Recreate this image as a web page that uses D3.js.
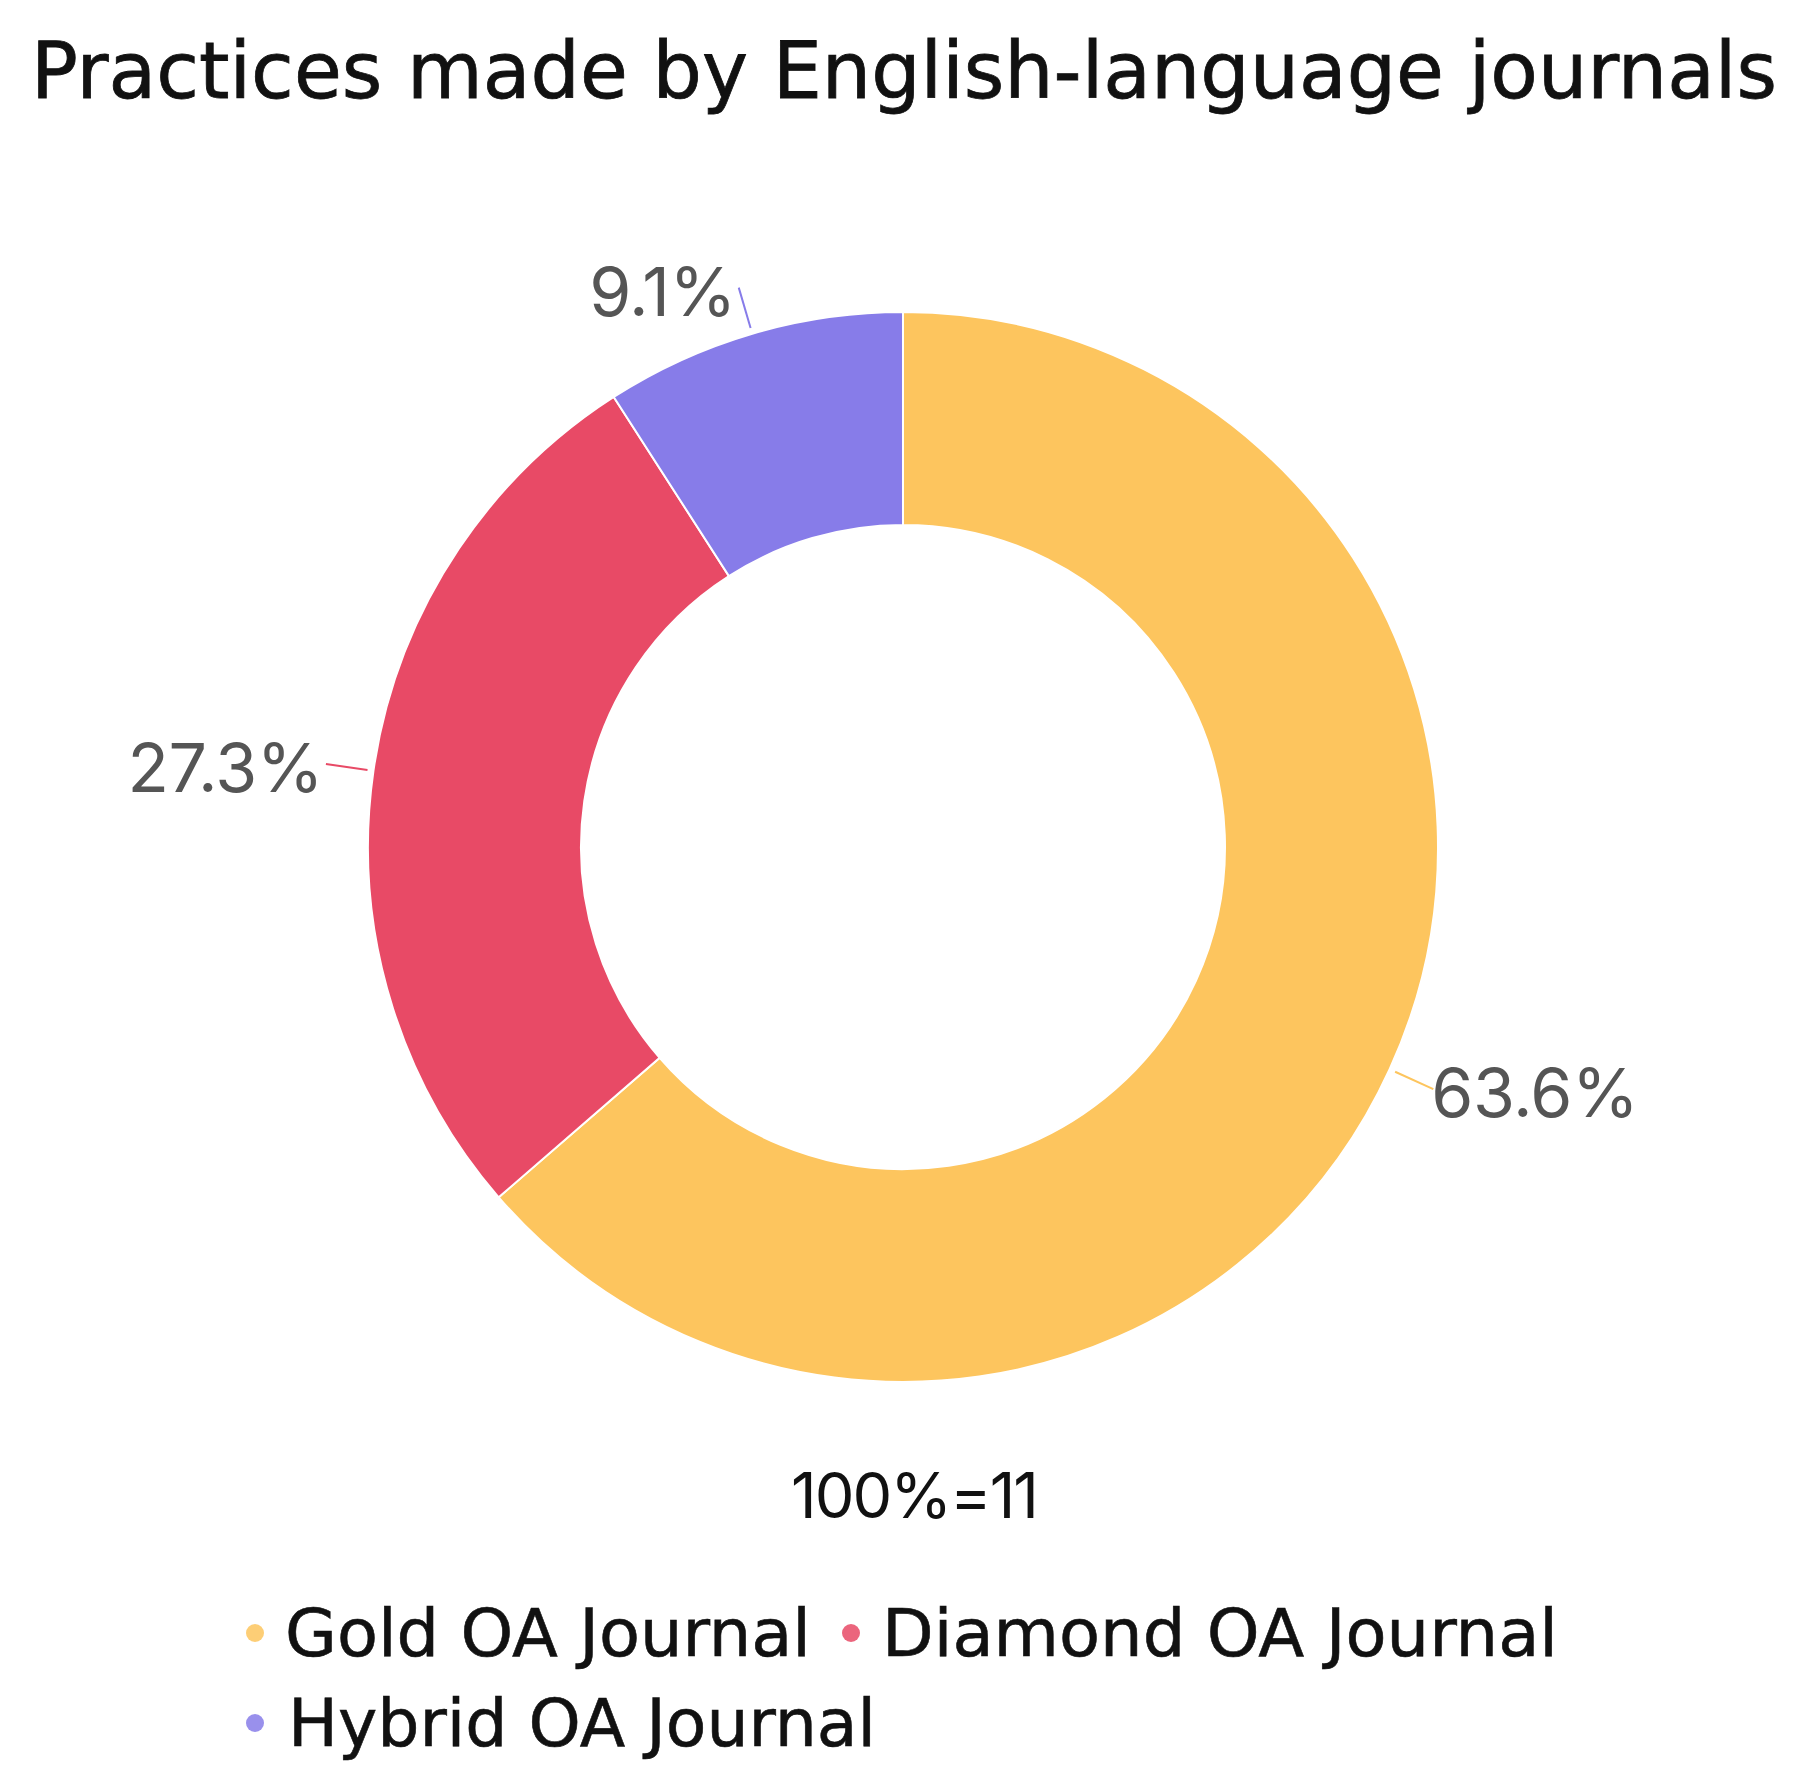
<!DOCTYPE html>
<html>
<head>
<meta charset="utf-8">
<script src="https://cdn.jsdelivr.net/npm/d3@7"></script>
<style>
  html, body { margin: 0; padding: 0; background: #fff; }
  svg { display: block; }
</style>
</head>
<body>
<svg id="chart"></svg>
<script>
// data
const title = "Practices made by English-language journals";
const categories = ["Gold OA Journal", "Diamond OA Journal", "Hybrid OA Journal"];
const counts = [7, 3, 1];
const colors = ["#FDC55E", "#E84A66", "#877CE9"];
const totalLabel = "100%=11";

const width = 1803;
const height = 1790;
const center = { x: 903, y: 847 };
const outerR = 535;
const innerR = 322;

const svg = d3.select("#chart").attr("width", width).attr("height", height);

// fit a text element to a target width
function fitWidth(sel, w) {
  const n = sel.node().getComputedTextLength();
  if (Math.abs(n - w) > 2) sel.attr("textLength", w).attr("lengthAdjust", "spacingAndGlyphs");
}

// title
const t = svg.append("text")
  .attr("x", 31).attr("y", 98)
  .attr("font-family", "'DejaVu Sans', sans-serif")
  .attr("font-size", 78)
  .attr("fill", "#111")
  .attr("stroke", "#111")
  .attr("stroke-width", 0.8)
  .text(title);
fitWidth(t, 1746);

const colorScale = d3.scaleOrdinal().domain(categories).range(colors);
const total = d3.sum(counts);
const slices = categories.map((c, i) => ({ name: c, count: counts[i] }));

const pie = d3.pie().sort(null).value((d) => d.count);
const arcs = pie(slices);

const arc = d3.arc().innerRadius(innerR).outerRadius(outerR);

const g = svg.append("g").attr("transform", `translate(${center.x},${center.y})`);

g.selectAll("path")
  .data(arcs)
  .enter()
  .append("path")
  .attr("d", arc)
  .attr("fill", (d) => colorScale(d.data.name))
  .attr("stroke", "white")
  .attr("stroke-width", 2);

// leader lines + percent labels
const fmt = d3.format(".1%");
const lines = g.selectAll("g.lbl")
  .data(arcs)
  .enter()
  .append("g")
  .attr("class", "lbl");

function pt(a, r) {
  return [Math.sin(a) * r, -Math.cos(a) * r];
}

lines.append("line")
  .each(function (d) {
    const a = (d.startAngle + d.endAngle) / 2;
    const p1 = pt(a, outerR + 6);
    const p2 = pt(a, outerR + 48);
    d3.select(this)
      .attr("x1", p1[0]).attr("y1", p1[1])
      .attr("x2", p2[0]).attr("y2", p2[1]);
  })
  .attr("stroke", (d) => colorScale(d.data.name))
  .attr("stroke-width", 2);

lines.append("text")
  .each(function (d) {
    const a = (d.startAngle + d.endAngle) / 2;
    const p = pt(a, outerR + 48);
    const right = Math.sin(a) > 0;
    d3.select(this)
      .attr("x", p[0] + (right ? -2 : -3))
      .attr("y", p[1] + 28)
      .attr("text-anchor", right ? "start" : "end");
  })
  .attr("font-family", "Inter, 'Liberation Sans', sans-serif")
  .attr("font-size", 68)
  .attr("letter-spacing", -0.5)
  .attr("fill", "#555")
  .text((d) => fmt(d.data.count / total));

// total
svg.append("text")
  .attr("x", 914).attr("y", 1518)
  .attr("text-anchor", "middle")
  .attr("font-family", "Inter, 'Liberation Sans', sans-serif")
  .attr("font-size", 63)
  .attr("letter-spacing", -2)
  .attr("fill", "#111")
  .text(totalLabel);

// legend
const legendPos = [
  { dx: 255, tx: 285, y: 1656, w: 526 },
  { dx: 851, tx: 882, y: 1656, w: 676 },
  { dx: 255, tx: 288, y: 1746, w: 588 }
];

const legend = svg.append("g").attr("class", "legend");
const items = legend.selectAll("g")
  .data(categories)
  .enter()
  .append("g");

items.append("circle")
  .attr("cx", (d, i) => legendPos[i].dx)
  .attr("cy", (d, i) => legendPos[i].y - 23)
  .attr("r", 9)
  .attr("fill", (d) => colorScale(d))
  .attr("opacity", 0.85);

items.append("text")
  .attr("x", (d, i) => legendPos[i].tx)
  .attr("y", (d, i) => legendPos[i].y)
  .attr("font-family", "'DejaVu Sans', sans-serif")
  .attr("font-size", 66)
  .attr("fill", "#111")
  .attr("stroke", "#111")
  .attr("stroke-width", 0.6)
  .text((d) => d)
  .each(function (d, i) { fitWidth(d3.select(this), legendPos[i].w); });
</script>
</body>
</html>
